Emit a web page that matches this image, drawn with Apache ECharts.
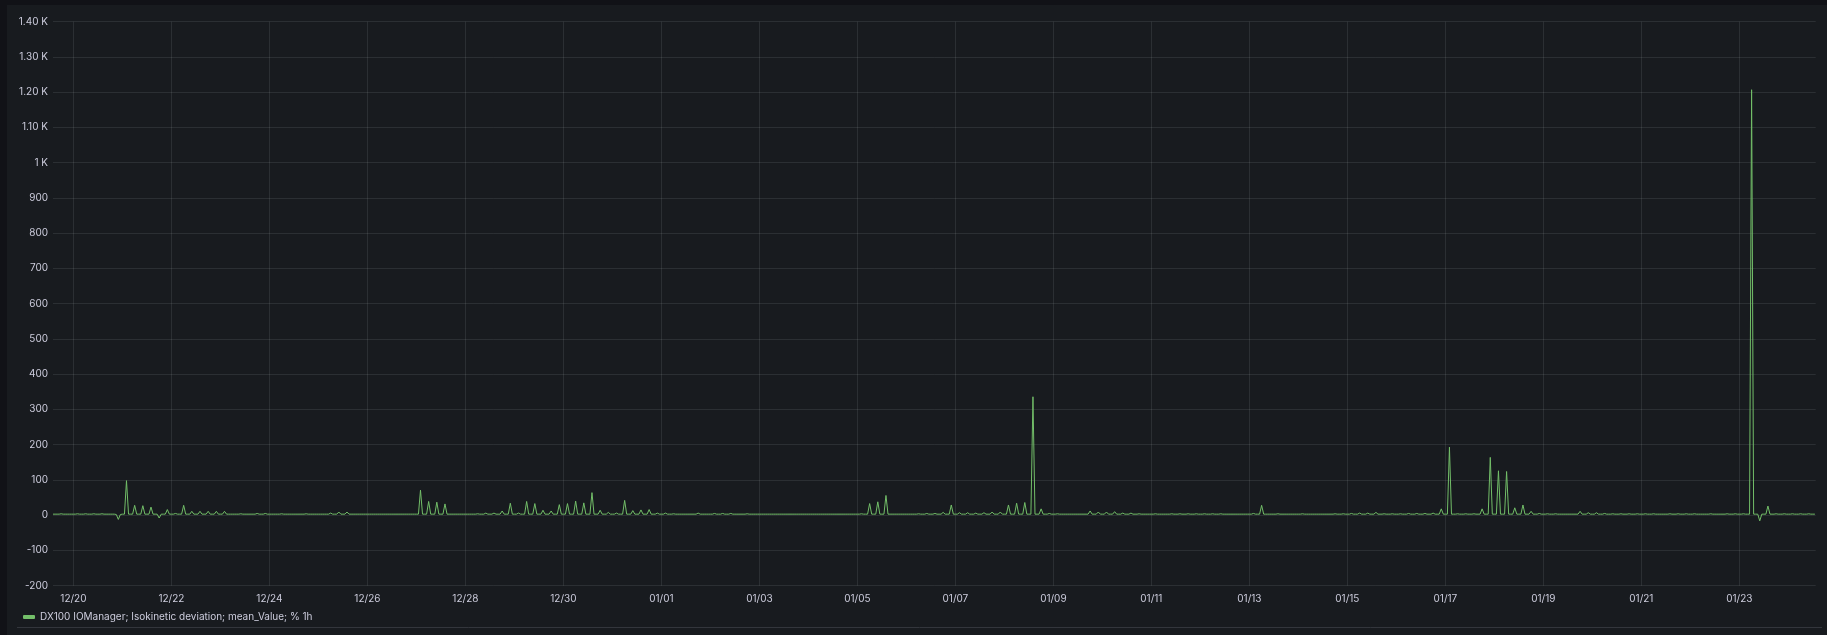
<!DOCTYPE html>
<html><head><meta charset="utf-8">
<script src="https://cdn.jsdelivr.net/npm/echarts@6/dist/echarts.min.js"></script>
<style>
html,body{margin:0;padding:0;background:#111217;width:1827px;height:635px;overflow:hidden}
#panel{position:absolute;left:7px;top:5px;width:1820px;height:630px;background:#181b1f;}
#chart{position:absolute;left:0;top:0;width:1827px;height:635px}
</style></head><body><div id="panel"></div><div id="chart"></div>
<script>
// Series name (legend)
const seriesName = 'DX100 IOManager; Isokinetic deviation; mean_Value; % 1h';
// First sample hour, relative to 12/20 00:00 (i.e. 12/19 14:00), hourly samples
const firstHour = -10;
// Hourly mean values, one row per day (first row starts 12/19 14:00, last row ends 01/24 13:00)
const dayRows = [
  /*12/19*/ [3,3,3,3,4,3,3,3,3,3],
  /*12/20*/ [3,3,4,3,3,3,4,3,3,3,4,3,3,3,4,3,3,3,3,3,3,2,-12,2],
  /*12/21*/ [3,3,98,3,3,3,28,3,3,3,27,3,3,3,23,3,3,3,-8,3,3,3,16,3],
  /*12/22*/ [3,3,5,3,3,3,28,3,3,3,11,3,3,3,11,3,3,3,11,3,3,3,11,3],
  /*12/23*/ [3,3,11,3,3,3,3,3,3,3,4,3,3,3,3,3,3,3,5,3,3,3,5,3],
  /*12/24*/ [3,3,3,3,3,3,4,3,3,3,3,3,3,3,3,3,3,3,4,3,3,3,3,3],
  /*12/25*/ [3,3,3,3,3,3,6,3,3,3,9,3,3,3,9,3,3,3,3,3,3,3,3,3],
  /*12/26*/ [3,3,3,3,3,3,3,3,3,3,3,3,3,3,3,3,3,3,3,3,3,3,3,3],
  /*12/27*/ [3,3,71,3,3,3,39,3,3,3,37,3,3,3,32,3,3,3,3,3,3,3,3,3],
  /*12/28*/ [3,3,3,3,3,3,4,3,3,3,6,3,3,3,6,3,3,3,12,3,3,3,34,3],
  /*12/29*/ [3,3,6,3,3,3,39,3,3,3,33,3,3,3,14,3,3,3,12,3,3,3,30,3],
  /*12/30*/ [3,3,33,3,3,3,40,3,3,3,35,3,3,3,64,3,3,3,14,3,3,3,8,3],
  /*12/31*/ [3,3,6,3,3,3,42,3,3,3,13,3,3,3,15,3,3,3,16,3,3,3,6,3],
  /*01/01*/ [3,3,6,3,3,3,4,3,3,3,3,3,3,3,3,3,3,3,6,3,3,3,3,3],
  /*01/02*/ [3,3,5,3,3,3,5,3,3,3,5,3,3,3,3,3,3,3,4,3,3,3,3,3],
  /*01/03*/ [3,3,3,3,3,3,3,3,3,3,3,3,3,3,3,3,3,3,3,3,3,3,3,3],
  /*01/04*/ [3,3,3,3,3,3,3,3,3,3,3,3,3,3,3,3,3,3,3,3,3,3,3,3],
  /*01/05*/ [3,3,4,3,3,3,33,3,3,3,38,3,3,3,56,3,3,3,3,3,3,3,3,3],
  /*01/06*/ [3,3,3,3,3,3,4,3,3,3,5,3,3,3,5,3,3,3,8,3,3,3,29,3],
  /*01/07*/ [3,3,7,3,3,3,7,3,3,3,6,3,3,3,7,3,3,3,9,3,3,3,9,3],
  /*01/08*/ [3,3,29,3,3,3,34,3,3,3,36,3,3,3,336,3,3,3,18,3,3,3,5,3],
  /*01/09*/ [3,3,4,3,3,3,3,3,3,3,3,3,3,3,3,3,3,3,12,3,3,3,9,3],
  /*01/10*/ [3,3,9,3,3,3,10,3,3,3,6,3,3,3,6,3,3,3,4,3,3,3,3,3],
  /*01/11*/ [3,3,4,3,3,3,3,3,3,3,4,3,3,3,4,3,3,3,4,3,3,3,4,3],
  /*01/12*/ [3,3,4,3,3,3,4,3,3,3,4,3,3,3,3,3,3,3,3,3,3,3,3,3],
  /*01/13*/ [3,3,5,3,3,3,28,3,3,3,3,3,3,3,4,3,3,3,3,3,3,3,3,3],
  /*01/14*/ [3,3,4,3,3,3,3,3,3,3,3,3,3,3,3,3,3,3,4,3,3,3,4,3],
  /*01/15*/ [3,3,5,3,3,3,6,3,3,3,6,3,3,3,8,3,3,3,4,3,3,3,4,3],
  /*01/16*/ [3,3,4,3,3,3,5,3,3,3,5,3,3,3,5,3,3,3,6,3,3,3,18,3],
  /*01/17*/ [3,3,193,3,3,3,4,3,3,3,4,3,3,3,4,3,3,3,18,3,3,3,164,3],
  /*01/18*/ [3,3,126,3,3,3,124,3,3,3,21,3,3,3,29,3,3,3,11,3,3,3,5,3],
  /*01/19*/ [3,3,4,3,3,3,4,3,3,3,3,3,3,3,3,3,3,3,11,3,3,3,7,3],
  /*01/20*/ [3,3,7,3,3,3,5,3,3,3,4,3,3,3,4,3,3,3,4,3,3,3,4,3],
  /*01/21*/ [3,3,4,3,3,3,4,3,3,3,3,3,3,3,4,3,3,3,4,3,3,3,4,3],
  /*01/22*/ [3,3,4,3,3,3,3,3,3,3,4,3,3,3,3,3,3,3,4,3,3,3,4,3],
  /*01/23*/ [3,3,4,3,3,3,1207,3,3,3,-16,3,3,3,26,3,3,3,4,3,3,3,4,3],
  /*01/24*/ [3,3,4,3,3,3,4,3,3,3,4,3,3,3]
];
// X tick positions (hours from 12/20 00:00) and labels
const xTickHours = [0,48,96,144,192,240,288,336,384,432,480,528,576,624,672,720,768,816];
const xTickLabels = ['12/20','12/22','12/24','12/26','12/28','12/30','01/01','01/03','01/05','01/07','01/09','01/11','01/13','01/15','01/17','01/19','01/21','01/23'];
// Y ticks
const yTickValues = [-200,-100,0,100,200,300,400,500,600,700,800,900,1000,1100,1200,1300,1400];
const yTickLabels = ['-200','-100','0','100','200','300','400','500','600','700','800','900','1 K','1.10 K','1.20 K','1.30 K','1.40 K'];

const values = [].concat(...dayRows);
const seriesData = values.map((v, i) => [firstHour + i, v]);

const gridColor = 'rgba(240,250,255,0.09)';
const textColor = '#ccccdc';
const font = 'Inter, "Noto Sans", sans-serif';

const chart = echarts.init(document.getElementById('chart'), null, {renderer: 'canvas'});
chart.setOption({
  animation: false,
  backgroundColor: 'transparent',
  grid: {left: 53, right: 11.3, top: 21.7, bottom: 49.3, containLabel: false},
  legend: {
    data: [seriesName], left: 18, top: 607, icon: 'roundRect', itemWidth: 12, itemHeight: 4, itemGap: 10,
    textStyle: {color: textColor, fontSize: 10, fontFamily: font}, selectedMode: false
  },
  xAxis: {
    type: 'value', min: -10, max: 853.4,
    axisLine: {show: false},
    axisTick: {show: false, customValues: xTickHours},
    axisLabel: {
      customValues: xTickHours, color: textColor, fontSize: 10, fontFamily: font, margin: 8,
      formatter: v => { const k = xTickHours.indexOf(Math.round(v)); return k >= 0 ? xTickLabels[k] : ''; }
    },
    splitLine: {show: true, lineStyle: {color: gridColor, width: 1}}
  },
  yAxis: {
    type: 'value', min: -200, max: 1400, interval: 100,
    axisLine: {show: false}, axisTick: {show: false},
    axisLabel: {
      color: textColor, fontSize: 10, fontFamily: font, margin: 5,
      formatter: v => { const k = yTickValues.indexOf(Math.round(v)); return k >= 0 ? yTickLabels[k] : ''; }
    },
    splitLine: {show: true, lineStyle: {color: gridColor, width: 1}}
  },
  graphic: [{
    type: 'line', shape: {x1: 17, y1: 627.5, x2: 1822, y2: 627.5},
    style: {stroke: '#33363c', lineWidth: 1}, silent: true
  }],
  series: [{
    name: seriesName, type: 'line', data: seriesData, showSymbol: false, symbol: 'none',
    lineStyle: {width: 1, color: '#73BF69'}, itemStyle: {color: '#73BF69'},
    emphasis: {disabled: true}
  }]
});
</script></body></html>
